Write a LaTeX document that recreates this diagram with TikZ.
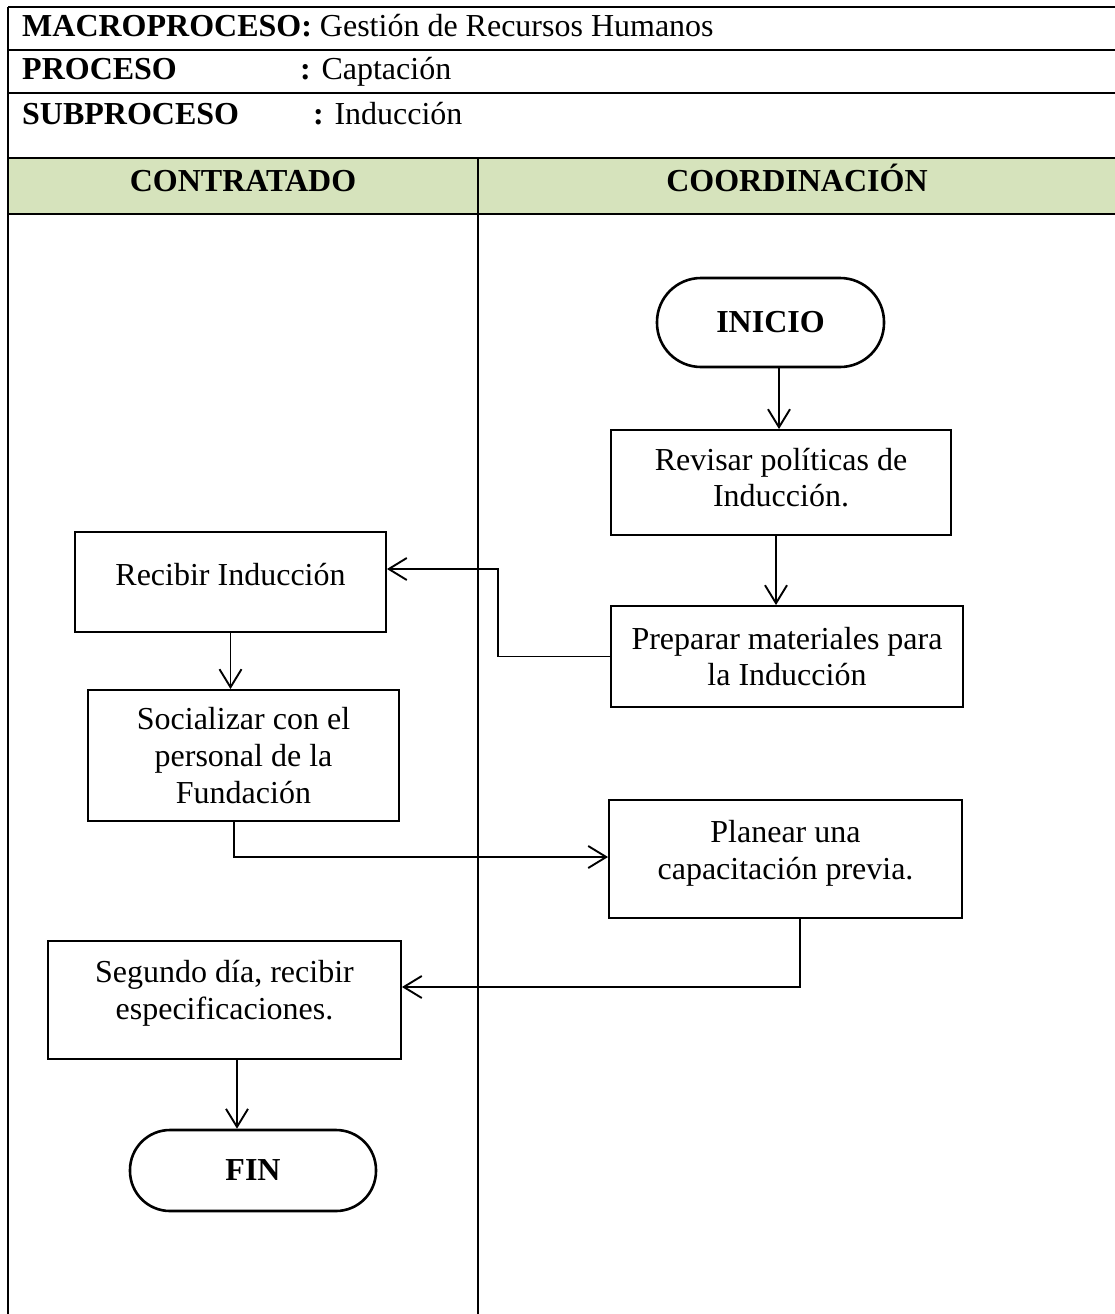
\documentclass[tikz,border=0pt]{standalone}
\usepackage{fontspec}
\setmainfont{Liberation Serif}
\usetikzlibrary{arrows.meta}
\definecolor{hdrgreen}{HTML}{D6E3BC}
\begin{document}
\begin{tikzpicture}[x=1pt,y=-1pt,
  font=\fontsize{32}{36.8}\selectfont,
  tline/.style={line width=2.4pt},
  stepbox/.style={draw, line width=1.9pt, align=center, inner sep=2pt},
  boxtxt/.style={align=center, inner sep=0pt},
  termbox/.style={draw, line width=2.6pt, align=center, font=\fontsize{32}{36.8}\selectfont\bfseries},
  lbl/.style={anchor=base west, inner sep=0pt},
  arr/.style={line width=1.9pt, -{Straight Barb[length=18pt,width=22pt,line width=1.9pt]}}]
\useasboundingbox (0,0) rectangle (1115,1314);
% table
\fill[hdrgreen] (8,158) rectangle (1115,214);
\draw[tline] (8,7) -- (1115,7);
\draw[tline] (8,50) -- (1115,50);
\draw[tline] (8,93) -- (1115,93);
\draw[tline] (8,158) -- (1115,158);
\draw[tline] (8,214) -- (1115,214);
\draw[tline] (8,7) -- (8,1314);
\draw[tline] (478,158) -- (478,1314);
% header texts
\node[lbl] (t1) at (22,37) {\textbf{MACROPROCESO:} Gestión de Recursos Humanos};
\node[lbl] (t2) at (22,80) {\textbf{PROCESO}};
\node[lbl] (t2b) at (300,80) {\textbf{:} Captación};
\node[lbl] (t3) at (22,124) {\textbf{SUBPROCESO}};
\node[lbl] (t3b) at (313,124) {\textbf{:} Inducción};
\node[anchor=base, inner sep=0pt] (h1) at (243,191) {\textbf{CONTRATADO}};
\node[anchor=base, inner sep=0pt] (h2) at (797,191) {\textbf{COORDINACIÓN}};
% nodes
\node[termbox, minimum width=227pt, minimum height=89pt, rounded corners=44pt] (ini) at (770.5,322.5) {\raisebox{-1pt}{INICIO}};
\node[stepbox, minimum width=340pt, minimum height=105pt,
  label={[boxtxt, yshift=5pt]center:Revisar políticas de\\Inducción.}] (rev) at (781,482.5) {};
\node[stepbox, minimum width=352pt, minimum height=101pt] (prep) at (787,656.5) {Preparar materiales para\\la Inducción};
\node[stepbox, minimum width=311pt, minimum height=100pt] (rec) at (230.5,582) {\raisebox{16pt}{Recibir Inducción}};
\node[stepbox, minimum width=311pt, minimum height=131pt] (soc) at (243.5,755.5) {Socializar con el\\personal de la\\Fundación};
\node[stepbox, minimum width=353pt, minimum height=118pt,
  label={[boxtxt, yshift=6pt]center:Planear una\\capacitación previa.}] (plan) at (785.5,859) {};
\node[stepbox, minimum width=353pt, minimum height=118pt,
  label={[boxtxt, yshift=7pt]center:Segundo día, recibir\\especificaciones.}] (seg) at (224.5,1000) {};
\node[termbox, minimum width=246pt, minimum height=81pt, rounded corners=40pt] (fin) at (253,1170.5) {\raisebox{-2pt}{FIN}};
% connectors
\coordinate (a1) at (779,0);
\draw[arr] (ini.south -| a1) -- (rev.north -| a1);
\coordinate (a2) at (776,0);
\draw[arr] (rev.south -| a2) -- (prep.north -| a2);
\coordinate (k1) at (498,569);
\draw[arr] (prep.west) -| (k1) -- (k1 -| rec.east);
\draw[arr] (rec.south) -- (soc.north -| rec.south);
\coordinate (k3) at (234,857);
\draw[arr] (soc.south -| k3) -- (k3) -- (k3 -| plan.west);
\coordinate (k2) at (800,987);
\draw[arr] (plan.south -| k2) -- (k2) -- (k2 -| seg.east);
\coordinate (a3) at (237,0);
\draw[arr] (seg.south -| a3) -- (fin.north -| a3);
\end{tikzpicture}
\end{document}
